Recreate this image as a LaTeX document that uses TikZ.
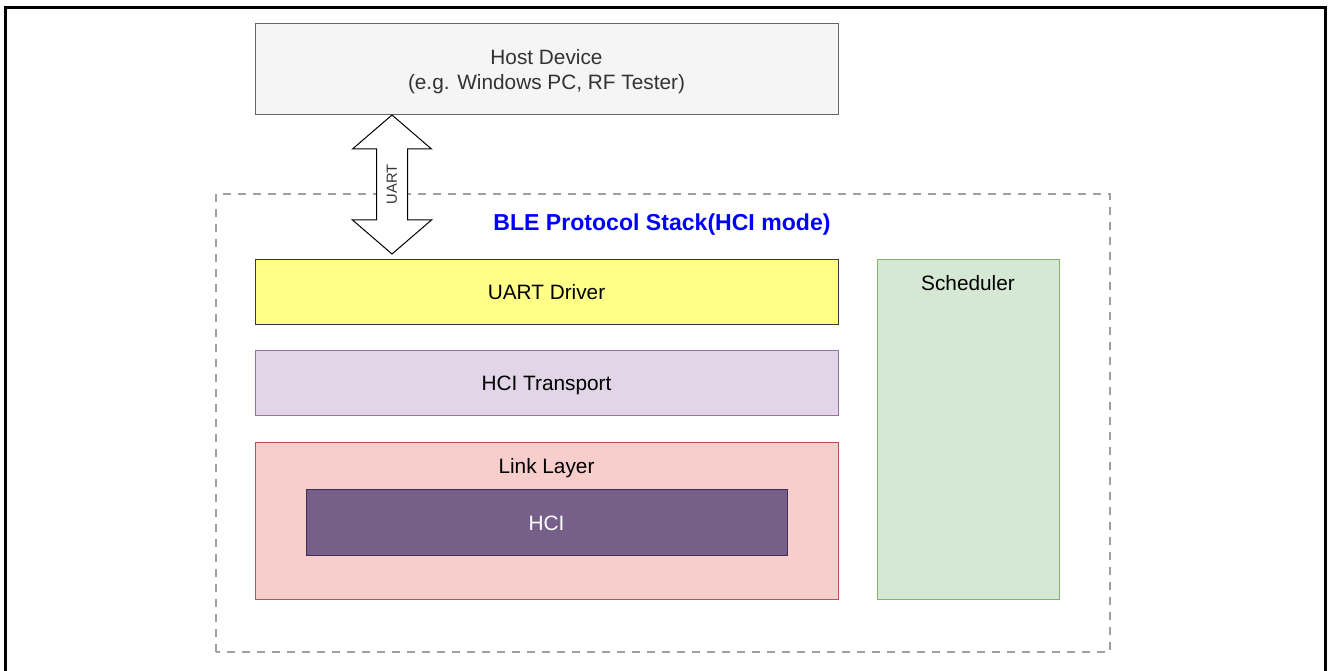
\documentclass[tikz,border=0pt]{standalone}
\usepackage{fontspec}
\setmainfont{Liberation Sans}
\usetikzlibrary{calc,positioning}
\definecolor{hostfill}{HTML}{F5F5F5}
\definecolor{hostline}{HTML}{666666}
\definecolor{hosttext}{HTML}{333333}
\definecolor{drvfill}{HTML}{FFFF88}
\definecolor{drvline}{HTML}{36393D}
\definecolor{trnfill}{HTML}{E1D5E7}
\definecolor{trnline}{HTML}{9673A6}
\definecolor{llfill}{HTML}{F8CECC}
\definecolor{llline}{HTML}{B85450}
\definecolor{hcifill}{HTML}{76608A}
\definecolor{hciline}{HTML}{432D57}
\definecolor{schfill}{HTML}{D5E8D4}
\definecolor{schline}{HTML}{82B366}
\definecolor{stackline}{HTML}{A0A0A0}
\definecolor{stacktitle}{HTML}{0000FF}
\tikzset{
  Layer/.style={
    draw, line width=0.75pt,
    inner sep=0pt, outer sep=0pt,
    minimum width=437.25pt, minimum height=48.75pt,
    font=\fontsize{15.6}{18.7}\selectfont, text=black,
    text depth=0pt
  },
  LayerLbl/.style={
    font=\fontsize{15.6}{18.7}\selectfont, text=black,
    text height=11.2pt, text depth=0pt, inner sep=0pt
  },
  StackFrame/.style={
    draw=stackline, line width=1.5pt,
    dash pattern=on 6pt off 5.25pt
  },
  UartArrow/.style={draw=black, fill=white, line width=0.75pt, line join=miter}
}

\begin{document}
\begin{tikzpicture}[x=0.75pt, y=0.75pt]
  \useasboundingbox (0,0) rectangle (1328,671);

  % frame, open at the bottom
  \draw[line width=2.25pt] (5,-5) -- (5,663) -- (1325,663) -- (1325,-5);

  % stack container
  \draw[StackFrame] (216,19) rectangle (1110,477);
  \node[font=\bfseries\fontsize{17.3}{20}\selectfont, text=stacktitle, text height=12.4pt, text depth=0pt]
    (title) at (662,449) {BLE Protocol Stack(HCI mode)};

  \node[Layer, fill=hostfill, draw=hostline, text=hosttext, minimum height=68.25pt, align=center]
    (host) at (546.5,601.5) {Host Device\\(e.g. Windows PC, RF Tester)};

  \node[Layer, fill=drvfill, draw=drvline, text height=11.2pt] (driver) at (546.5,378.5) {UART Driver};
  \node[Layer, fill=trnfill, draw=trnline, text height=11.2pt, below=19.5pt of driver] (transport) {HCI Transport};
  \node[Layer, fill=llfill, draw=llline, minimum height=117.75pt, below=20.25pt of transport] (link) {};
  \node[LayerLbl] (linklbl) at ($(link.north)+(0,-23)$) {Link Layer};
  \node[Layer, fill=hcifill, draw=hciline, text=white, text height=11.2pt, minimum width=360.75pt, minimum height=49.5pt]
    (hci) at ($(link.center)+(0,-1.5)$) {HCI};

  \node[Layer, fill=schfill, draw=schline, minimum width=136.5pt, minimum height=255pt]
    (sched) at (968,241) {};
  \node[LayerLbl] (schedlbl) at ($(sched.north)+(0,-23)$) {Scheduler};

  % UART double arrow between host and driver
  \path (host.south) ++(-154.5,0) coordinate (uarttop);
  \path (driver.north) ++(-154.5,6) coordinate (uartbot);
  \draw[UartArrow] (uarttop) -- ++(39.5,-34) -- ++(-24,0) -- ($(uartbot)+(15.5,34)$)
    -- ++(24,0) -- (uartbot) -- ++(-39.5,34) -- ++(24,0) -- ($(uarttop)+(-15.5,-34)$)
    -- ++(-24,0) -- cycle;
  \node[rotate=90, font=\fontsize{11}{13}\selectfont, text=hosttext] (uart)
    at ($(uarttop)!0.5!(uartbot)$) {UART};
\end{tikzpicture}
\end{document}
